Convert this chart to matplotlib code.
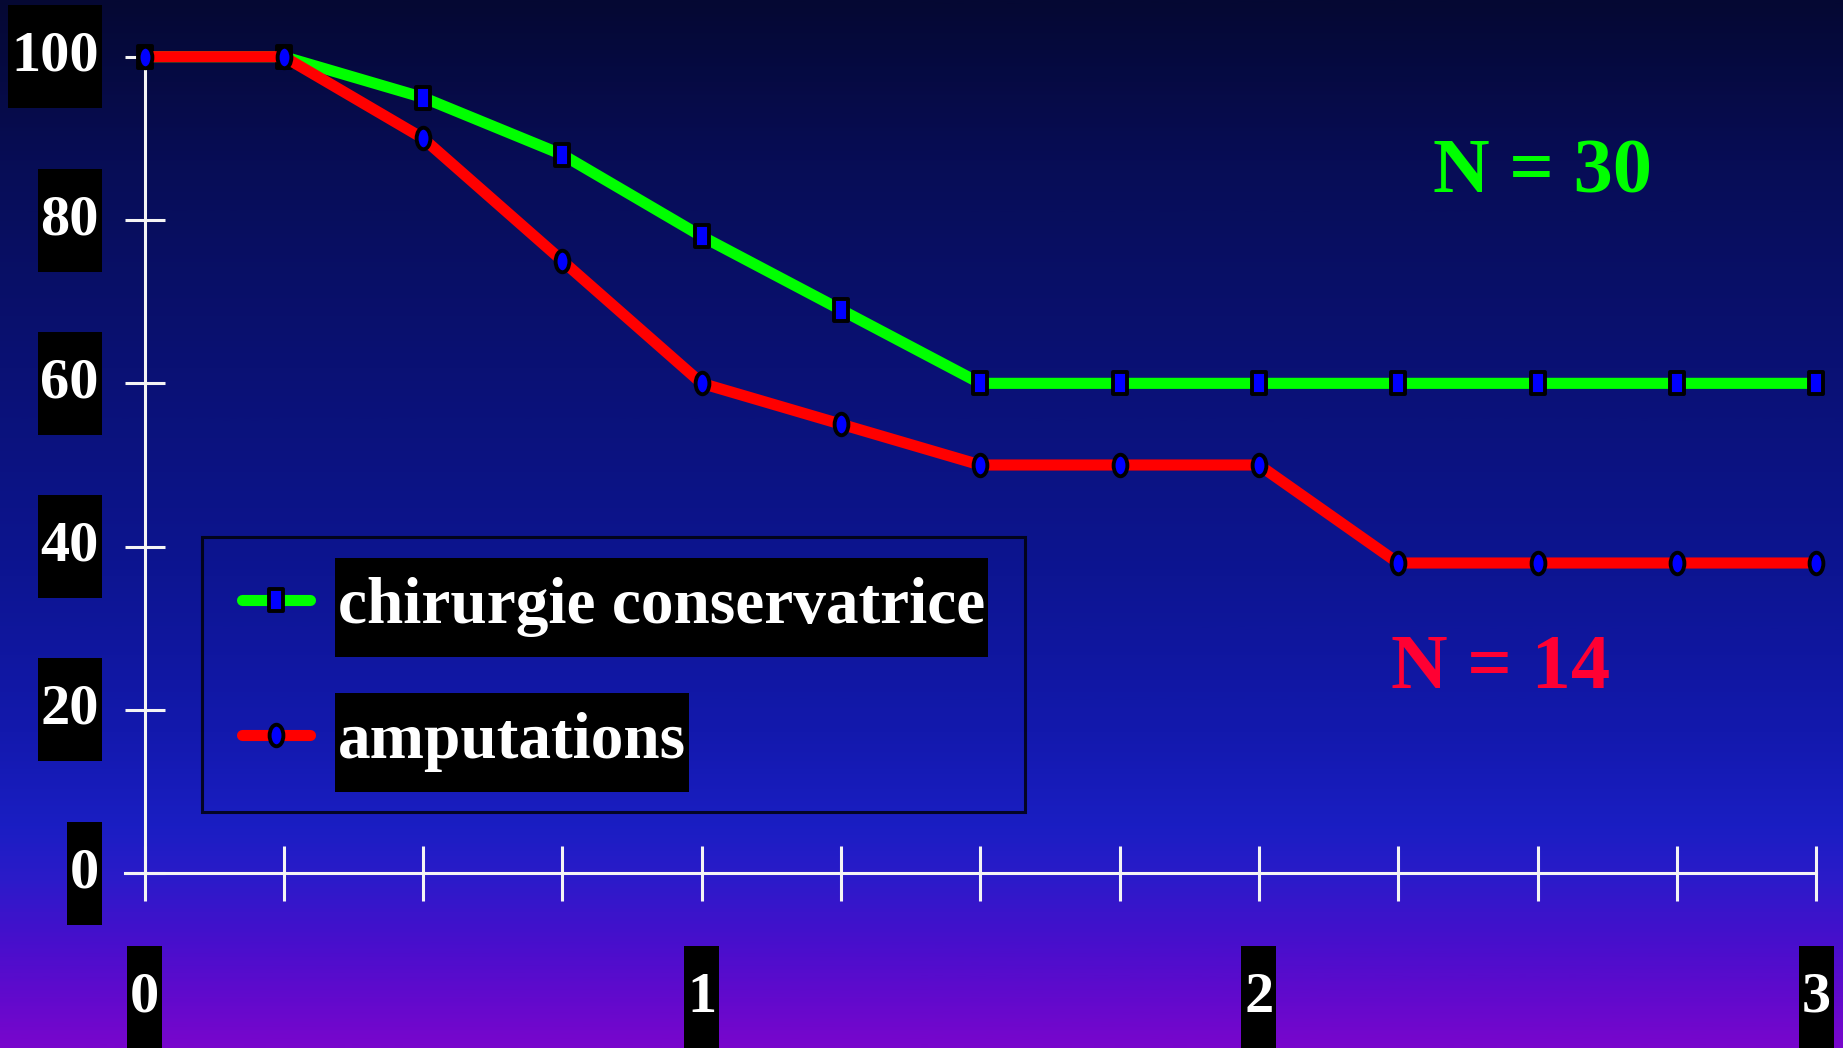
import numpy as np
import matplotlib
matplotlib.use("Agg")
import matplotlib.pyplot as plt
from matplotlib.path import Path
from matplotlib.markers import MarkerStyle
from matplotlib.colors import LinearSegmentedColormap
import matplotlib.transforms as mtransforms

# ---------------- data ----------------
years = [0, 0.25, 0.5, 0.75, 1, 1.25, 1.5, 1.75, 2, 2.25, 2.5, 2.75, 3]
conservatrice = [100, 100, 95, 88, 78, 69, 60, 60, 60, 60, 60, 60, 60]
amputations = [100, 100, 90, 75, 60, 55, 50, 50, 50, 38, 38, 38, 38]
series_labels = ["chirurgie conservatrice", "amputations"]
y_ticks = [0, 20, 40, 60, 80, 100]
x_label_ticks = [0, 1, 2, 3]
n_labels = ["N = 30", "N = 14"]

FONT = "Liberation Serif"
W, H = 1843, 1048
fig = plt.figure(figsize=(W / 100, H / 100), dpi=100)

# ---------------- background gradient ----------------
bg = fig.add_axes([0, 0, 1, 1], zorder=-10)
stops = [(0.0, '#050833'), (0.15, '#070d55'), (0.35, '#0a1174'),
         (0.55, '#0d1592'), (0.70, '#1319ad'), (0.79, '#1a1ec3'),
         (0.84, '#2b1bc9'), (0.90, '#470fcc'), (1.0, '#7806cc')]
cmap = LinearSegmentedColormap.from_list('bg', stops)
grad = np.linspace(0, 1, 600).reshape(-1, 1)
bg.imshow(grad, cmap=cmap, aspect='auto', extent=[0, 1, 0, 1])
bg.set_axis_off()

# ---------------- main axes ----------------
px0, sx = 144.5, 557.2     # pixel of x=0, pixels per x unit
py0, sy = 873.3, 8.166     # pixel (from top) of y=0, pixels per y unit
left_px, right_px, top_px = 125, 1830, 40
ax = fig.add_axes([left_px / W, (H - py0) / H, (right_px - left_px) / W, (py0 - top_px) / H],
                  zorder=1)
ax.set_facecolor('none')
xmin = -(px0 - left_px) / sx
ax.set_xlim(xmin, (right_px - px0) / sx)
ax.set_ylim(0, (py0 - top_px) / sy)

circ = Path.unit_circle()
ellipse = Path(circ.vertices * [0.64, 1.0], circ.codes)
rect = Path([(-0.66, -1), (0.66, -1), (0.66, 1), (-0.66, 1), (-0.66, -1)], closed=True)
m_sq = MarkerStyle(rect, joinstyle='miter')
m_ci = MarkerStyle(ellipse)

common = dict(lw=8, ms=15.5, mfc='#0000ff', mec='black', mew=2.8, clip_on=False,
              solid_capstyle='round')
ax.plot(years, conservatrice, color='#00ff00', marker=m_sq, zorder=3,
        label=series_labels[0], **common)
ax.plot(years, amputations, color='#ff0000', marker=m_ci, zorder=4,
        label=series_labels[1], **common)

# axes / ticks
axis_col = '#f4f4f4'
for s in ['top', 'right']:
    ax.spines[s].set_visible(False)
ax.spines['left'].set_position(('data', 0))
ax.spines['left'].set_bounds(0, 100)
ax.spines['bottom'].set_bounds(xmin, 3)
for s in ['left', 'bottom']:
    ax.spines[s].set_color(axis_col)
    ax.spines[s].set_linewidth(2.2)
ax.set_xticks(years)
ax.set_yticks(y_ticks)
ax.tick_params(axis='x', direction='inout', length=39.6, width=2.2, color=axis_col,
               labelbottom=False)
ax.tick_params(axis='y', direction='inout', length=29.5, width=2.2, color=axis_col,
               labelleft=False)


def box_style(padx, half_h):
    def style(x0, y0, width, height, mutation_size):
        cy = y0 + height / 2
        px = padx * mutation_size
        hh = half_h * mutation_size
        return Path([(x0 - px, cy - hh), (x0 + width + px, cy - hh),
                     (x0 + width + px, cy + hh), (x0 - px, cy + hh),
                     (x0 - px, cy - hh)], closed=True)
    return style


tick_fs = 42
tick_box = dict(boxstyle=box_style(0.05, 0.883), facecolor='black', edgecolor='none', lw=0)
ytrans = mtransforms.blended_transform_factory(fig.transFigure, ax.transData)
for v in y_ticks:
    ax.text(99 / W, v, str(v), transform=ytrans, ha='right', va='center',
            color='white', fontsize=tick_fs, fontweight='bold', family=FONT, bbox=tick_box)
xtrans = mtransforms.blended_transform_factory(ax.transData, fig.transFigure)
for v in x_label_ticks:
    ax.text(v, (H - 998) / H, str(v), transform=xtrans, ha='center', va='center',
            color='white', fontsize=tick_fs, fontweight='bold', family=FONT, bbox=tick_box)

# N annotations
ax.text(2.312, 83.4, n_labels[0], color='#00ff00', fontsize=56.5, fontweight='bold',
        family=FONT, ha='left', va='baseline')
ax.text(2.237, 22.7, n_labels[1], color='#ff0033', fontsize=56.5, fontweight='bold',
        family=FONT, ha='left', va='baseline')

# legend
leg = ax.legend(loc='lower left', bbox_to_anchor=(202 / W, (H - 812) / H),
                bbox_transform=fig.transFigure, borderaxespad=0,
                prop=dict(family=FONT, weight='bold', size=47),
                handlelength=1.05, handletextpad=0.42, labelspacing=1.15,
                borderpad=0.61, numpoints=1, fancybox=False, frameon=True)
frame = leg.get_frame()
frame.set_facecolor('none')
frame.set_edgecolor('black')
frame.set_linewidth(2.2)
for t in leg.get_texts():
    t.set_color('white')
    t.set_bbox(dict(boxstyle=box_style(0.046, 0.758), facecolor='black',
                    edgecolor='none', lw=0))

fig.savefig('out.png', dpi=100)
